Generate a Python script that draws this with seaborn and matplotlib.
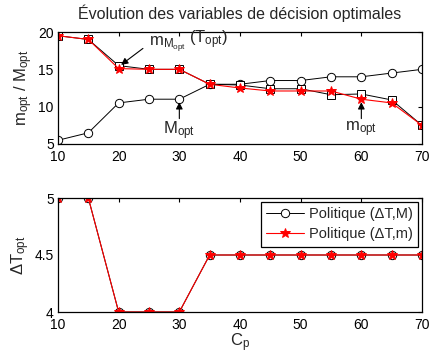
import matplotlib
matplotlib.use("Agg")
import matplotlib.pyplot as plt
import seaborn as sns
import numpy as np

cp = [10, 15, 20, 25, 30, 35, 40, 45, 50, 55, 60, 65, 70]
M_opt = [5.5, 6.5, 10.5, 11, 11, 13, 13, 13.5, 13.5, 14, 14, 14.5, 15]
m_M_opt = [19.5, 19, 15.5, 15, 15, 13, 12.9, 12.4, 12.4, 11.6, 11.7, 10.9, 7.5]
m_opt = [19.5, 19, 15.1, 15, 15, 13, 12.5, 12.1, 12.1, 12.1, 11.0, 10.5, 7.5]
dT_M = [5, 5, 4, 4, 4, 4.5, 4.5, 4.5, 4.5, 4.5, 4.5, 4.5, 4.5]
dT_m = [5, 5, 4, 4, 4, 4.5, 4.5, 4.5, 4.5, 4.5, 4.5, 4.5, 4.5]

sns.set_style("white")
plt.rcParams['font.family'] = ['Liberation Sans', 'DejaVu Sans']
plt.rcParams['mathtext.default'] = 'regular'
plt.rcParams['font.size'] = 10

fig = plt.figure(figsize=(4.30, 3.54), dpi=100)
W, H = 430, 354
ax1 = fig.add_axes([58 / W, 1 - 144 / H, 364 / W, 112 / H])
ax2 = fig.add_axes([58 / W, 1 - 312 / H, 364 / W, 114 / H])

ms = 6
sns.lineplot(x=cp, y=M_opt, ax=ax1, color='k', lw=0.7, marker='o', markersize=ms,
             markerfacecolor='white', markeredgecolor='k', markeredgewidth=0.7)
sns.lineplot(x=cp, y=m_M_opt, ax=ax1, color='k', lw=0.7, marker='s', markersize=ms - 0.5,
             markerfacecolor='white', markeredgecolor='k', markeredgewidth=0.7)
sns.lineplot(x=cp, y=m_opt, ax=ax1, color='red', lw=0.8, marker='*', markersize=ms + 1,
             markerfacecolor='red', markeredgecolor='red', markeredgewidth=0.7)

sns.lineplot(x=cp, y=dT_M, ax=ax2, color='k', lw=0.7, marker='o', markersize=ms,
             markerfacecolor='white', markeredgecolor='k', markeredgewidth=0.7,
             label='Politique (ΔT,M)')
sns.lineplot(x=cp, y=dT_m, ax=ax2, color='red', lw=0.8, marker='*', markersize=ms + 1,
             markerfacecolor='red', markeredgecolor='red', markeredgewidth=0.7,
             label='Politique (ΔT,m)')

for ax in (ax1, ax2):
    ax.set_xlim(10, 70)
    ax.set_xticks([10, 20, 30, 40, 50, 60, 70])
    ax.tick_params(direction='in', length=3, width=0.8, top=True, right=True,
                   labelsize=10, colors='k')
    ax.tick_params(axis='x', pad=4)
    ax.tick_params(axis='y', pad=3)
    for s in ax.spines.values():
        s.set_color('k')
        s.set_linewidth(0.9)

ax1.set_ylim(5, 20)
ax1.set_yticks([5, 10, 15, 20])
ax2.set_ylim(4, 5)
ax2.set_yticks([4, 4.5, 5])
ax2.set_yticklabels(['4', '4.5', '5'])

ax1.set_title('Évolution des variables de décision optimales', fontsize=11.5, pad=9)
ax1.set_ylabel('$m_{opt}$ / $M_{opt}$', fontsize=12, labelpad=2)
ax2.set_ylabel('$ΔT_{opt}$', fontsize=12, labelpad=2)
ax2.set_xlabel('$C_p$', fontsize=12, labelpad=0)
ax1.set_xlabel('')

arrow = dict(arrowstyle='-|>', color='k', lw=0.8, mutation_scale=10, shrinkA=0, shrinkB=0)
ax1.annotate('', xy=(20.4, 15.6), xytext=(24.0, 17.8), arrowprops=arrow)
ax1.text(25.0, 16.9, '$m_{M_{opt}}$', fontsize=12, ha='left', va='bottom')
ax1.text(31.6, 17.4, '$(T_{opt})$', fontsize=12, ha='left', va='bottom')
ax1.annotate('', xy=(30, 10.6), xytext=(30, 8.4), arrowprops=arrow)
ax1.text(30, 8.3, '$M_{opt}$', fontsize=12, ha='center', va='top')
ax1.annotate('', xy=(60, 10.6), xytext=(60, 8.4), arrowprops=arrow)
ax1.text(60, 8.3, '$m_{opt}$', fontsize=12, ha='center', va='top')

leg = ax2.legend(loc='upper right', fontsize=10.5, frameon=True, fancybox=False,
                 edgecolor='k', framealpha=1, borderpad=0.4, handlelength=2.6,
                 handletextpad=0.3, labelspacing=0.4, borderaxespad=0.25)
leg.get_frame().set_linewidth(0.9)

fig.savefig('out.png', dpi=100)
